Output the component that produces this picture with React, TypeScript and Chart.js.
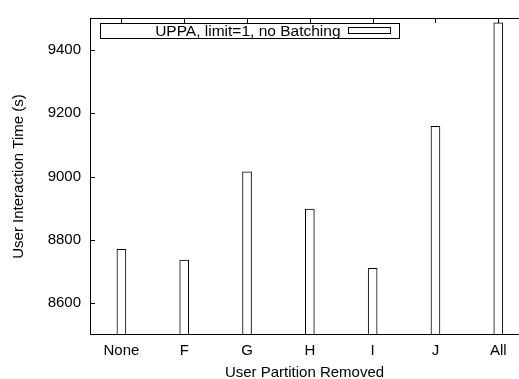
import { useEffect, useRef } from "react";
import { Chart, registerables } from "chart.js";

Chart.register(...registerables);

// Data
const categories = ["None", "F", "G", "H", "I", "J", "All"];
const interactionTime = [8770, 8736, 9015, 8897, 8710, 9158, 9485];
const yTickValues = [8600, 8800, 9000, 9200, 9400];
const yRange = [8500, 9500];
// category-index range shown; the plot box runs past the right edge
const xRange = [-0.5, 6.33];
const seriesLabel = "UPPA, limit=1, no Batching";
const xTitle = "User Partition Removed";
const yTitle = "User Interaction Time (s)";

const FONT_FAMILY = "'Liberation Sans', Arial, Helvetica, sans-serif";
const FONT_SIZE = 15;
const TICK_LEN = 5;

// Gnuplot-style frame: inward ticks, open-ended box border and an outlined key.
const gnuplotFrame = {
  id: "gnuplotFrame",
  beforeDatasetsDraw(chart: any) {
    const { ctx, chartArea: a, scales } = chart;
    const xs = scales.x;
    const ys = scales.y;
    ctx.save();
    ctx.strokeStyle = "#000";
    ctx.lineWidth = 1;
    ctx.beginPath();
    ys.ticks.forEach((t: any) => {
      const py = Math.round(ys.getPixelForValue(t.value)) + 0.5;
      ctx.moveTo(a.left, py);
      ctx.lineTo(a.left + TICK_LEN, py);
    });
    categories.forEach((_, i) => {
      const px = Math.round(xs.getPixelForValue(i)) + 0.5;
      ctx.moveTo(px, a.top);
      ctx.lineTo(px, a.top + TICK_LEN);
      ctx.moveTo(px, a.bottom);
      ctx.lineTo(px, a.bottom - TICK_LEN);
    });
    ctx.stroke();
    ctx.restore();
  },
  afterDatasetsDraw(chart: any) {
    const { ctx, chartArea: a } = chart;
    const farRight = chart.width + 20;
    ctx.save();
    ctx.strokeStyle = "#000";
    ctx.lineWidth = 1;
    ctx.beginPath();
    ctx.moveTo(a.left, a.top + 0.5);
    ctx.lineTo(farRight, a.top + 0.5);
    ctx.stroke();
    ctx.beginPath();
    ctx.moveTo(a.left, a.bottom - 0.5);
    ctx.lineTo(farRight, a.bottom - 0.5);
    ctx.stroke();
    ctx.beginPath();
    ctx.moveTo(a.left + 0.5, a.top);
    ctx.lineTo(a.left + 0.5, a.bottom);
    ctx.stroke();

    // key box
    const bx = a.left + 10.5;
    const by = a.top + 5.5;
    const bw = 299;
    const bh = 15;
    ctx.fillStyle = "#fff";
    ctx.fillRect(bx, by, bw, bh);
    ctx.strokeRect(bx, by, bw, bh);

    const label = chart.data.datasets[0].label;
    ctx.fillStyle = "#000";
    ctx.font = `15.5px ${FONT_FAMILY}`;
    ctx.textAlign = "right";
    ctx.textBaseline = "middle";
    ctx.fillText(label, bx + 240, by + bh / 2 + 0.5);

    ctx.fillStyle = "#fff";
    ctx.fillRect(bx + 248, by + 4, 42, 6);
    ctx.strokeRect(bx + 248, by + 4, 42, 6);
    ctx.restore();
  },
};

export default function App() {
  const canvasRef = useRef<HTMLCanvasElement | null>(null);

  useEffect(() => {
    const canvas = canvasRef.current;
    if (!canvas) return;
    const chart = new Chart(canvas, {
      type: "bar",
      data: {
        datasets: [
          {
            label: seriesLabel,
            data: interactionTime.map((y, i) => ({ x: i, y })),
            backgroundColor: "#ffffff",
            borderColor: "#000000",
            borderWidth: 1,
            borderSkipped: false,
            barThickness: 9,
          },
        ],
      },
      options: {
        animation: false,
        responsive: false,
        devicePixelRatio: 1,
        layout: { padding: { left: 0, right: 0, top: 12, bottom: 0 } },
        plugins: {
          legend: { display: false },
          tooltip: { enabled: false },
        },
        scales: {
          x: {
            type: "linear",
            min: xRange[0],
            max: xRange[1],
            offset: false,
            grid: { display: false, drawTicks: false },
            border: { display: false },
            ticks: {
              color: "#000",
              padding: 7,
              font: { family: FONT_FAMILY, size: FONT_SIZE },
              maxRotation: 0,
              autoSkip: false,
              callback: (v: any) => categories[v] ?? "",
            },
            afterBuildTicks(scale: any) {
              scale.ticks = categories.map((_, i) => ({ value: i }));
            },
            title: {
              display: true,
              text: xTitle,
              color: "#000",
              font: { family: FONT_FAMILY, size: FONT_SIZE, lineHeight: 1 },
              padding: { top: 0, bottom: -1 },
            },
            afterFit(scale: any) {
              scale.height = 44;
            },
          },
          y: {
            type: "linear",
            min: yRange[0],
            max: yRange[1],
            grid: { display: false, drawTicks: false },
            border: { display: false },
            ticks: {
              color: "#000",
              padding: 9,
              font: { family: FONT_FAMILY, size: FONT_SIZE },
              callback: (v: any) => String(v),
            },
            afterBuildTicks(scale: any) {
              scale.ticks = yTickValues.map((v) => ({ value: v }));
            },
            title: {
              display: true,
              text: yTitle,
              color: "#000",
              font: { family: FONT_FAMILY, size: FONT_SIZE, lineHeight: 1.2 },
              padding: { top: 10, bottom: 0 },
            },
            afterFit(scale: any) {
              scale.width = 90;
            },
          },
        },
      },
      plugins: [gnuplotFrame],
    });
    return () => chart.destroy();
  }, []);

  return (
    <div
      style={{
        position: "fixed",
        left: 0,
        top: 0,
        width: 519,
        height: 379,
        overflow: "hidden",
        background: "#fff",
      }}
    >
      <canvas ref={canvasRef} width={519} height={379} style={{ width: 519, height: 379, display: "block" }} />
    </div>
  );
}
